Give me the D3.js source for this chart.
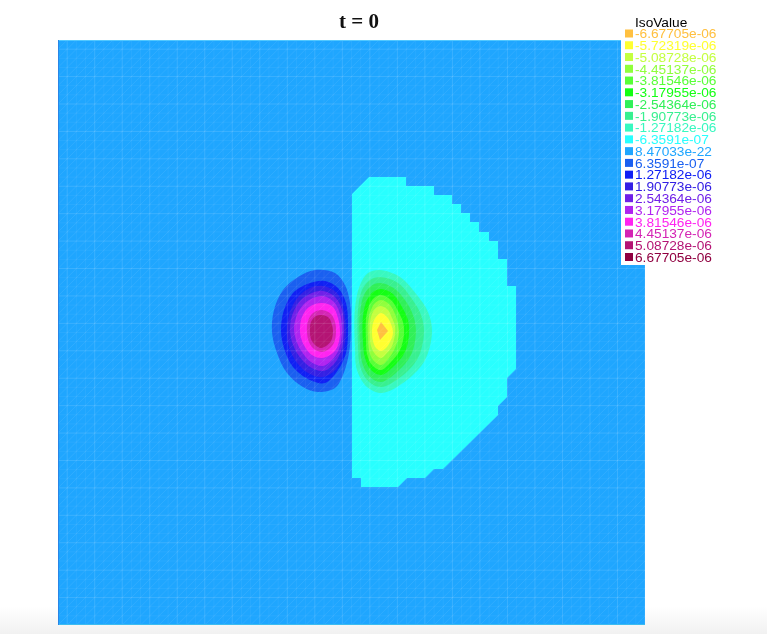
<!DOCTYPE html>
<html><head><meta charset="utf-8">
<script src="https://cdn.jsdelivr.net/npm/d3@7"></script>
<style>html,body{margin:0;padding:0;background:#fff;overflow:hidden}svg{display:block;filter:blur(0.4px)}</style>
</head><body><svg id="c" width="767" height="634"></svg>
<script>
const titleText = "t = 0";
const legendTitle = "IsoValue";
const isoLabels = ["-6.67705e-06","-5.72319e-06","-5.08728e-06","-4.45137e-06","-3.81546e-06","-3.17955e-06","-2.54364e-06","-1.90773e-06","-1.27182e-06","-6.3591e-07","8.47033e-22","6.3591e-07","1.27182e-06","1.90773e-06","2.54364e-06","3.17955e-06","3.81546e-06","4.45137e-06","5.08728e-06","6.67705e-06"];
const isoColors = ["#ffc040","#ffff30","#c4ff40","#90ff3c","#58ff38","#14ff14","#30f058","#38f090","#38f8c0","#28ffff","#1fa6ff","#1a60f0","#1020f4","#3420e4","#7020e8","#b024f0","#ff24f0","#d424b4","#b41474","#900040"];
// Regions in domain units; each is [legend index, outline points]
const stepRegion = [[294,431],[311,448],[348,448],[348,439],[376,439],[376,430],[394,430],[394,421],[403,421],[403,412],[412,412],[412,403],[421,403],[421,393],[431,393],[431,384],[440,384],[440,366],[449,366],[449,339],[458,339],[458,256],[449,247],[449,228],[440,219],[440,210],[385,156],[376,156],[367,147],[349,147],[340,138],[303,138],[303,147],[294,147]];
const leftLobes = [
 [11,[[257,355],[277,352],[287,340],[292,322],[293,298],[291,272],[285,250],[277,237],[260,233],[245,238],[229,252],[219,272],[214,293],[216,315],[225,335],[240,348]]],
 [12,[[267,344],[280,337],[288,322],[290,298],[288,272],[280,255],[267,242],[252,245],[235,258],[226,277],[223,295],[226,315],[235,332],[252,342]]],
 [13,[[265,339],[279,332],[285,318],[288,295],[285,272],[279,257],[265,248],[250,252],[237,265],[230,282],[229,297],[232,313],[240,328],[252,337]]],
 [14,[[265,334],[277,328],[284,315],[286,295],[283,274],[276,261],[265,254],[252,258],[241,269],[234,283],[232,297],[235,312],[243,325],[254,332]]],
 [15,[[265,329],[276,323],[282,311],[284,294],[281,276],[274,265],[265,259],[253,263],[244,273],[238,285],[236,297],[239,310],[246,321],[255,327]]],
 [16,[[264,322],[275,318],[280,307],[282,293],[280,280],[275,272],[264,267],[254,270],[247,278],[243,287],[242,297],[244,308],[251,318]]],
 [17,[[264,315],[273,311],[277,303],[278,293],[276,282],[271,276],[264,273],[256,276],[251,283],[249,293],[250,304],[255,312]]],
 [18,[[264,310],[271,307],[274,300],[275,293],[273,284],[268,279],[263,277],[257,280],[253,286],[252,294],[253,303],[258,309]]]
];
const rightLobes = [
 [8,[[322,355],[342,348],[359,330],[370,313],[374,293],[367,265],[349,245],[324,232],[309,238],[299,255],[297,278],[297,317],[302,340],[310,352]]],
 [7,[[322,348],[340,342],[354,326],[363,310],[366,293],[360,267],[344,249],[323,238],[310,244],[302,259],[300,280],[300,315],[304,335],[312,345]]],
 [6,[[322,342],[337,336],[349,322],[356,307],[358,292],[353,270],[339,253],[323,243],[311,249],[304,263],[302,282],[302,312],[306,330],[313,339]]],
 [5,[[323,336],[335,331],[344,318],[350,305],[351,291],[347,273],[335,258],[323,250],[313,255],[307,267],[305,283],[305,309],[309,325],[315,333]]],
 [4,[[323,330],[333,325],[340,314],[345,303],[346,291],[342,275],[333,263],[323,255],[314,260],[309,271],[308,285],[308,306],[311,319],[316,327]]],
 [3,[[323,325],[331,321],[337,311],[340,301],[341,291],[337,277],[331,267],[323,260],[315,265],[311,275],[310,287],[310,303],[313,315],[317,322]]],
 [2,[[323,319],[330,315],[334,307],[337,299],[337,291],[334,279],[329,272],[323,267],[317,271],[313,279],[312,289],[312,301],[314,311],[318,317]]],
 [1,[[323,312],[329,308],[333,301],[335,292],[332,283],[328,277],[323,274],[318,277],[315,284],[314,292],[315,302],[318,308]]]
];
const centerDiamond = [0,[[323,303],[330,294],[322,285],[319,295]]];

const svg = d3.select("#c");
const x = d3.scaleLinear().domain([0,587]).range([58,645]);
const y = d3.scaleLinear().domain([0,585]).range([625,40]);
const defs = svg.append("defs");
const g = defs.append("linearGradient").attr("id","fade").attr("x1",0).attr("x2",0).attr("y1",0).attr("y2",1);
g.append("stop").attr("offset",0).attr("stop-color","#fff");
g.append("stop").attr("offset",1).attr("stop-color","#f1f1f1");
defs.append("clipPath").attr("id","plot").append("rect").attr("x",x(0)).attr("y",y(585)).attr("width",x(587)-x(0)).attr("height",y(0)-y(585));

svg.append("rect").attr("x",0).attr("y",606).attr("width",767).attr("height",28).attr("fill","url(#fade)");
svg.append("rect").attr("x",x(0)).attr("y",y(585)).attr("width",x(587)-x(0)).attr("height",y(0)-y(585)).attr("fill",isoColors[10]);

const plot = svg.append("g").attr("clip-path","url(#plot)");
const linear = d3.line().x(d=>x(d[0])).y(d=>y(d[1]));
const smooth = d3.line().x(d=>x(d[0])).y(d=>y(d[1])).curve(d3.curveCatmullRomClosed.alpha(0.5));
plot.append("path").attr("d",linear(stepRegion)+"Z").attr("fill",isoColors[9]);
plot.selectAll("path.l").data(leftLobes).join("path").attr("class","l").attr("d",d=>smooth(d[1])).attr("fill",d=>isoColors[d[0]]);
plot.selectAll("path.r").data(rightLobes).join("path").attr("class","r").attr("d",d=>smooth(d[1])).attr("fill",d=>isoColors[d[0]]);
plot.append("path").attr("d",linear(centerDiamond[1])+"Z").attr("fill",isoColors[centerDiamond[0]]);

// mesh
const cells = 64, stepX = 587/cells, stepY = 585/cells;
const mesh = plot.append("g").attr("stroke","#fff").attr("fill","none");
d3.range(0,cells+1).forEach(i=>{
  const o = i%3===1 ? 0.13 : 0.05;
  mesh.append("line").attr("x1",x(i*stepX)).attr("x2",x(i*stepX)).attr("y1",y(0)).attr("y2",y(585)).attr("stroke-opacity",o);
  mesh.append("line").attr("y1",y(585-i*stepY)).attr("y2",y(585-i*stepY)).attr("x1",x(0)).attr("x2",x(587)).attr("stroke-opacity",o);
});
d3.range(-cells,cells+1).forEach(i=>{
  mesh.append("line").attr("x1",x(i*stepX)).attr("y1",y(0)).attr("x2",x((i+cells)*stepX)).attr("y2",y(585)).attr("stroke-opacity",0.08);
});
// frame edges
svg.append("line").attr("x1",x(0)).attr("x2",x(587)).attr("y1",y(585)+.5).attr("y2",y(585)+.5).attr("stroke","#52c8ff");
svg.append("line").attr("x1",x(0)).attr("x2",x(587)).attr("y1",y(0)-.5).attr("y2",y(0)-.5).attr("stroke","#3cbcf0");
svg.append("line").attr("x1",x(0)+.5).attr("x2",x(0)+.5).attr("y1",y(585)).attr("y2",y(0)).attr("stroke","#2a86e6");

// title
svg.append("text").attr("x",359).attr("y",28).attr("text-anchor","middle").attr("font-family","'Liberation Serif',serif").attr("font-weight","bold").attr("font-size",21).attr("fill","#111").text(titleText);

// legend
svg.append("rect").attr("x",621).attr("y",14).attr("width",102).attr("height",251).attr("fill","#fff");
svg.append("text").attr("x",635).attr("y",27).attr("font-family","'Liberation Sans',sans-serif").attr("font-size",13.7).attr("fill","#000").text(legendTitle);
const rowY = d3.scalePoint().domain(isoLabels).range([33.5,257]);
const rows = svg.selectAll("g.row").data(isoLabels).join("g").attr("class","row").attr("transform",d=>`translate(0,${rowY(d)})`);
rows.append("rect").attr("x",625).attr("y",-4).attr("width",8).attr("height",8).attr("fill",(d,i)=>isoColors[i]);
rows.append("text").attr("x",635).attr("y",4.8).attr("font-family","'Liberation Sans',sans-serif").attr("font-size",13.7).attr("fill",(d,i)=>isoColors[i]).text(d=>d);
</script></body></html>
